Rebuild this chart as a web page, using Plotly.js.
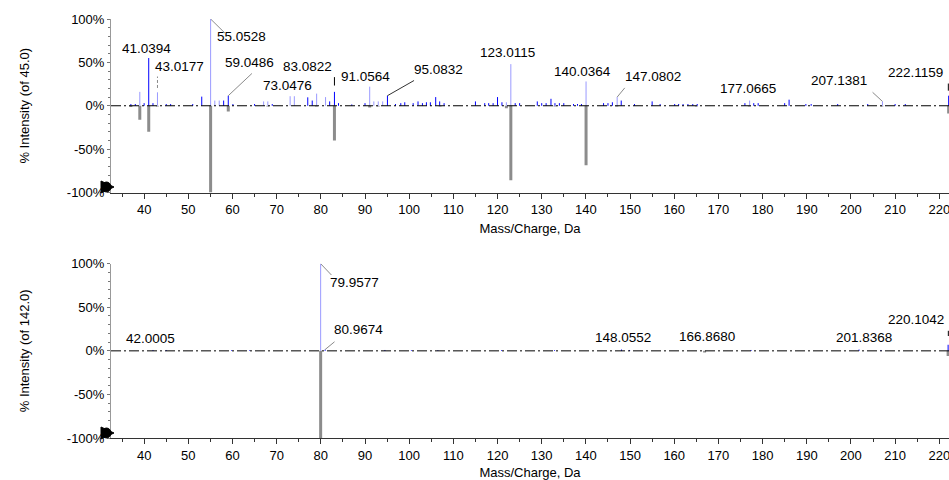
<!DOCTYPE html>
<html>
<head>
<meta charset="utf-8">
<script src="https://cdn.plot.ly/plotly-3.0.1.min.js"></script>
<style>html,body{margin:0;padding:0;background:#fff;}#chart{width:949px;height:480px;}</style>
</head>
<body>
<div id="chart"></div>
<script>
// ---------- DATA ----------
// Top spectrum: sample (positive, blue) vs library (negative, grey)
const topDarkMz  = [37.0,38.0,40.0,41.04,42.0,45.0,46.0,51.0,53.04,58.0,59.05,60.1,65.0,69.0,77.04,78.05,82.0,83.08,84.0,87.0,90.0,95.08,96.9,98.1,99.0,100.9,102.0,103.0,103.9,104.8,106.0,106.9,107.9,115.0,117.1,118.0,119.0,120.0,121.0,124.0,125.0,129.0,130.0,131.0,132.1,133.0,134.0,135.0,137.2,138.1,139.0,144.0,145.0,146.0,148.0,151.0,155.0,156.8,160.1,161.0,162.0,163.1,164.2,165.2,176.0,178.0,179.0,185.0,186.0,189.8,191.0,197.0,203.8,210.0,212.3,222.12];
const topDarkInt = [2,2,3,55,3,2,2,2,10.5,6,11.6,2,2,2,9.7,6,5,16,3,1.5,3,11.6,2,3,4,3,5,3,4,4,10,5,3,5,3,3,3,10,4,3,3,5,3,3,8,3,3,3,2,2,2,3,3,4,6,2,5,2,2,2,2,2,2,2,3,3,3,3,7,2,2,2,2,2,2,11.6];
const topLightMz  = [39.02,43.02,55.05,56.0,57.0,67.05,68.0,73.05,74.0,79.05,81.07,91.06,92.0,93.0,94.0,122.0,123.01,140.04,147.08,177.07,207.14];
const topLightInt = [16,15.5,100,6,6,5,5,11,11,14,10,22,5,5,5,4,48,28,10,6,5];
const topLibMz  = [37.0,39.02,41.04,43.0,55.05,59.05,68.0,79.0,83.08,91.06,93.0,107.0,122.0,123.01,133.0,140.04,147.0,165.0,177.0,207.0,222.12];
const topLibInt = [-1.5,-16,-30,-1,-100,-6.6,-1,-1,-40,-2,-1,-1,-3,-86,-1,-68.6,-1,-1,-1,-1,-9];

// Bottom spectrum
const botDarkMz  = [42.0,45.0,59.8,63.9,80.97,94.5,100.5,106.5,120.9,132.9,148.06,149.9,177.4,201.84,206.8,222.0];
const botDarkInt = [1,1,0.8,0.8,1.5,1,0.8,0.8,0.8,0.8,1.5,1,1,1.5,1,7];
const botLightMz  = [79.96];
const botLightInt = [100];
const botLibMz  = [79.96,166.87,222.0];
const botLibInt = [-100,-2,-6];

// Peak labels: text, label centre (x, y in data units)
const topLabels = ["41.0394","43.0177","55.0528","59.0486","73.0476","83.0822","91.0564","95.0832","123.0115","140.0364","147.0802","177.0665","207.1381","222.1159"];
const topLabelX = [40.6,48.1,62.1,63.9,72.5,77.0,90.2,106.7,122.3,139.3,155.1,176.6,197.4,214.6];
const topLabelY = [66.3,45.3,80.2,50.0,23.3,45.3,33.7,41.9,61.6,39.5,33.7,19.8,29.0,38.4];
const botLabels = ["42.0005","79.9577","80.9674","148.0552","166.8680","201.8368","220.1042"];
const botLabelX = [41.5,87.6,88.5,148.5,167.5,203.0,214.8];
const botLabelY = [13.9,78.9,24.4,15.1,16.2,15.1,36.0];

const xTicks = [40,50,60,70,80,90,100,110,120,130,140,150,160,170,180,190,200,210,220];
const yTicks = [-100,-50,0,50,100];
const yTickText = ["-100%","-50%","0%","50%","100%"];

// ---------- helpers ----------
function sticks(mz, inten){
  const xs=[], ys=[];
  for(let i=0;i<mz.length;i++){ xs.push(mz[i],mz[i],null); ys.push(0,inten[i],null); }
  return {xs, ys};
}
function stickTrace(mz, inten, color, width, xa, ya){
  const s = sticks(mz, inten);
  return {type:'scatter', mode:'lines', x:s.xs, y:s.ys, xaxis:xa, yaxis:ya,
          line:{color:color, width:width}, hoverinfo:'skip', connectgaps:false};
}
const DARK='#0000ff', LIGHT='#9a9aff', GREY='#8c8c8c';
const FONT = 'Liberation Sans, Arial, sans-serif';

const traces = [
  stickTrace(topLibMz, topLibInt, GREY, 3, 'x', 'y'),
  stickTrace(topLightMz, topLightInt, LIGHT, 1, 'x', 'y'),
  stickTrace(topDarkMz, topDarkInt, DARK, 1, 'x', 'y'),
  stickTrace(botLibMz, botLibInt, GREY, 3, 'x2', 'y2'),
  stickTrace(botLightMz, botLightInt, LIGHT, 1, 'x2', 'y2'),
  stickTrace(botDarkMz, botDarkInt, DARK, 1, 'x2', 'y2')
];

// ---------- layout ----------
const W=949, H=480, ML=111, MR=0, MT=19, MB=42;
function P(px,py){ return [(px-ML)/(W-ML-MR), (H-MB-py)/(H-MT-MB)]; }

function xAxis(anchor){
  return {domain:[0,1], anchor:anchor, range:[32.5,222.2], tickmode:'array', tickvals:xTicks,
    ticklabeloverflow:'allow',
    ticks:'outside', ticklen:5, tickwidth:1, tickcolor:'#333',
    minor:{dtick:5, tick0:0, ticks:'outside', ticklen:3, tickcolor:'#333'},
    showline:true, linecolor:'#333', linewidth:1, showgrid:false, zeroline:false,
    tickfont:{family:FONT, size:13, color:'#000'},
    title:{text:'Mass/Charge, Da', font:{family:FONT, size:13, color:'#000'}, standoff:7}};
}
function yAxis(anchor, domain, title){
  return {domain:domain, anchor:anchor, range:[-100,100], tickmode:'array', tickvals:yTicks,
    ticktext:yTickText, ticks:'outside', ticklen:3, tickcolor:'#777',
    minor:{dtick:10, tick0:0, ticks:'outside', ticklen:2, tickcolor:'#777'},
    showline:true, linecolor:'#999', linewidth:1, showgrid:false, zeroline:false,
    tickfont:{family:FONT, size:13, color:'#000'},
    title:{text:title, font:{family:FONT, size:13, color:'#000'}, standoff:34}};
}

const annotations = [];
function addLabels(texts, xs, ys, xr, yr){
  for(let i=0;i<texts.length;i++){
    annotations.push({text:texts[i], x:xs[i], y:ys[i], xref:xr, yref:yr, showarrow:false,
      xanchor:'center', yanchor:'middle', font:{family:FONT, size:13.5, color:'#000'}});
  }
}
addLabels(topLabels, topLabelX, topLabelY, 'x', 'y');
addLabels(botLabels, botLabelX, botLabelY, 'x2', 'y2');

const shapes = [];
// dash-dot zero lines
['y','y2'].forEach(function(yr){
  shapes.push({type:'line', xref:'paper', yref:yr, x0:0, x1:1, y0:0, y1:0,
    line:{color:'#000', width:1, dash:'10px,3px,2px,3px'}, layer:'above'});
});
// leader lines: from peak top to the label side
function leader(xr, yr, x0, y0, x1, y1, color, dash){
  shapes.push({type:'line', xref:xr, yref:yr, x0:x0, y0:y0, x1:x1, y1:y1,
    line:{color:color, width:1, dash:dash||'solid'}});
}
leader('x','y', topLightMz[2], topLightInt[2], 58.3, 83.7, '#8a8a8a');
leader('x','y', topDarkMz[10], topDarkInt[10], 64.4, 37.2, '#8a8a8a');
leader('x','y', topDarkMz[21], topDarkInt[21], 101.1, 29.1, '#333');
leader('x','y', topLightMz[18], topLightInt[18], 148.8, 20.6, '#8a8a8a');
leader('x','y', topLightMz[20], topLightInt[20], 204.9, 15.5, '#8a8a8a');
leader('x','y', topLightMz[1], topLightInt[1]+5, topLightMz[1], 33.7, '#8a8a8a', '3px,2px');
leader('x','y', topDarkMz[17], 23.3, topDarkMz[17], 33.0, '#000');
leader('x','y', 222.05, 17.4, 222.05, 25.6, '#000');
leader('x2','y2', botLightMz[0], botLightInt[0], 82.4, 87.0, '#8a8a8a');
leader('x2','y2', botDarkMz[4], botDarkInt[4], 83.1, 10.4, '#8a8a8a');
leader('x2','y2', 222.05, 17.0, 222.05, 23.0, '#000');

// black pointer markers at the bottom-left of each panel
function pointer(cy){
  const a=P(101,cy-6), b=P(114,cy), c=P(101,cy+6);
  shapes.push({type:'path', xref:'paper', yref:'paper',
    path:'M '+a[0]+' '+a[1]+' L '+b[0]+' '+b[1]+' L '+c[0]+' '+c[1]+' Z',
    fillcolor:'#000', line:{color:'#000', width:1}});
  const d=P(102,cy-5), e=P(111,cy+5);
  shapes.push({type:'circle', xref:'paper', yref:'paper', x0:d[0], y0:e[1], x1:e[0], y1:d[1],
    fillcolor:'#000', line:{color:'#000', width:1}});
}
pointer(187);
pointer(433);

const topDom = [(H-MB-192.5)/(H-MT-MB), 1];
const botDom = [0, (H-MB-263.7)/(H-MT-MB)];

const layout = {
  width:W, height:H, margin:{l:ML, r:MR, t:MT, b:MB, pad:0},
  paper_bgcolor:'#fff', plot_bgcolor:'#fff', showlegend:false,
  font:{family:FONT, size:13, color:'#000'},
  xaxis: xAxis('y'), yaxis: yAxis('x', topDom, '% Intensity (of 45.0)'),
  xaxis2: xAxis('y2'), yaxis2: yAxis('x2', botDom, '% Intensity (of 142.0)'),
  annotations: annotations, shapes: shapes
};

Plotly.newPlot('chart', traces, layout, {displayModeBar:false, staticPlot:true});
</script>
</body>
</html>
